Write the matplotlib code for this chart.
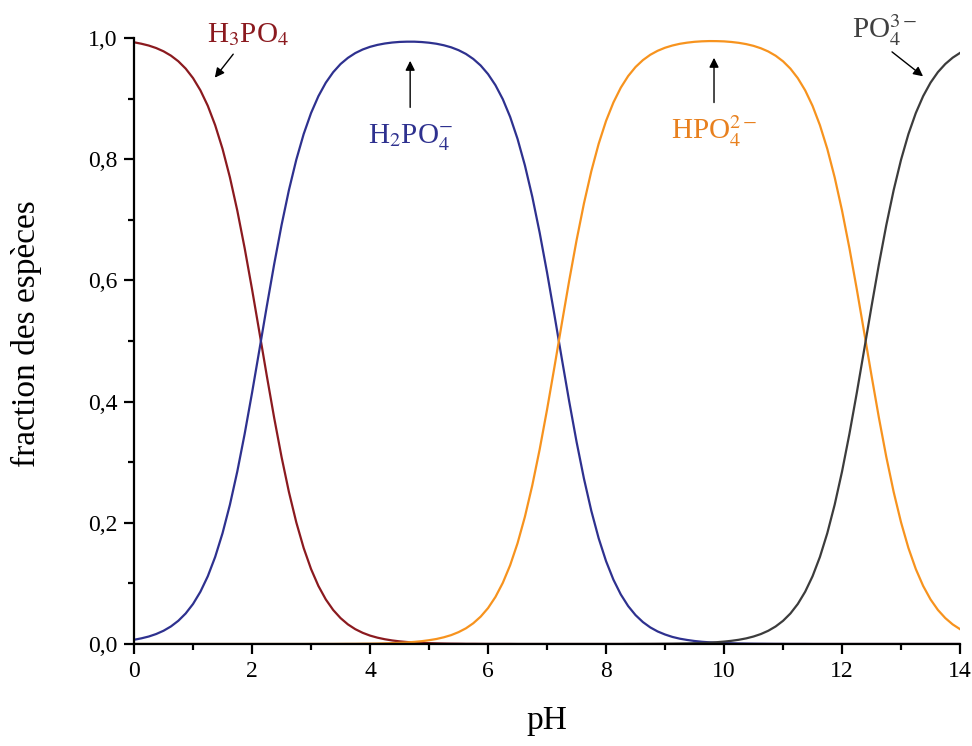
"""Diagramme de distribution des espèces de l'acide phosphorique en fonction du pH"""
import matplotlib
matplotlib.use("Agg")
import matplotlib.pyplot as plt
from matplotlib.ticker import MultipleLocator, FuncFormatter

## Valeurs (pas de 0,125 en pH, une ligne par unité de pH)
ph = [i * 0.125 for i in range(113)]

h3po4 = (
    [0.9930, 0.9906, 0.9876, 0.9835, 0.9781, 0.9710, 0.9617, 0.9496]
    + [0.9339, 0.9137, 0.8882, 0.8562, 0.8171, 0.7701, 0.7153, 0.6532]
    + [0.5855, 0.5144, 0.4427, 0.3733, 0.3088, 0.2509, 0.2008, 0.1585]
    + [0.1238, 0.0958, 0.0736, 0.0562, 0.0428, 0.0324, 0.0245, 0.0185]
    + [0.0139, 0.0105, 0.0079, 0.0059, 0.0044, 0.0033, 0.0025, 0.0019]
    + [0.0014, 0.0011, 0.0008, 0.0006, 0.0005, 0.0003, 0.0003, 0.0002]
    + [0.0001, 0.0001, 0.0001, 0.0001, 0.0, 0.0, 0.0, 0.0]
    + [0.0] * 57
)
h2po4 = (
    [0.0070, 0.0094, 0.0124, 0.0165, 0.0219, 0.0290, 0.0383, 0.0504]
    + [0.0661, 0.0863, 0.1118, 0.1437, 0.1829, 0.2299, 0.2847, 0.3468]
    + [0.4145, 0.4856, 0.5573, 0.6267, 0.6912, 0.7491, 0.7992, 0.8415]
    + [0.8762, 0.9041, 0.9263, 0.9436, 0.9571, 0.9673, 0.9752, 0.9811]
    + [0.9855, 0.9887, 0.9910, 0.9926, 0.9936, 0.9940, 0.9940, 0.9934]
    + [0.9923, 0.9906, 0.9881, 0.9847, 0.9800, 0.9738, 0.9655, 0.9547]
    + [0.9405, 0.9223, 0.8991, 0.8698, 0.8336, 0.7898, 0.7381, 0.6788]
    + [0.6131, 0.5431, 0.4712, 0.4006, 0.3339, 0.2732, 0.2199, 0.1745]
    + [0.1368, 0.1062, 0.0818, 0.0626, 0.0477, 0.0362, 0.0274, 0.0207]
    + [0.0157, 0.0117, 0.0088, 0.0067, 0.0050, 0.0037, 0.0028, 0.0021]
    + [0.0016, 0.0012, 0.0009, 0.0007, 0.0005, 0.0004, 0.0003, 0.0002]
    + [0.0002, 0.0001, 0.0001, 0.0001, 0.0, 0.0, 0.0, 0.0]
    + [0.0] * 17
)
hpo4 = (
    [0.0] * 24
    + [0.0001, 0.0001, 0.0001, 0.0001, 0.0002, 0.0003, 0.0003, 0.0005]
    + [0.0006, 0.0008, 0.0011, 0.0015, 0.0020, 0.0026, 0.0035, 0.0047]
    + [0.0063, 0.0083, 0.0111, 0.0147, 0.0196, 0.0259, 0.0343, 0.0452]
    + [0.0593, 0.0776, 0.1009, 0.1301, 0.1663, 0.2101, 0.2619, 0.3212]
    + [0.3868, 0.4570, 0.5288, 0.5994, 0.6661, 0.7268, 0.7801, 0.8255]
    + [0.8632, 0.8937, 0.9181, 0.9373, 0.9522, 0.9636, 0.9724, 0.9790]
    + [0.9840, 0.9877, 0.9905, 0.9924, 0.9938, 0.9946, 0.9950, 0.9949]
    + [0.9945, 0.9935, 0.9921, 0.9900, 0.9871, 0.9831, 0.9778, 0.9708]
    + [0.9616, 0.9495, 0.9338, 0.9137, 0.8881, 0.8562, 0.8171, 0.7701]
    + [0.7152, 0.6532, 0.5855, 0.5144, 0.4427, 0.3733, 0.3088, 0.2509]
    + [0.2008, 0.1585, 0.1238, 0.0958, 0.0736, 0.0562, 0.0428, 0.0324]
    + [0.0245]
)
po4 = (
    [0.0] * 64
    + [0.0, 0.0, 0.0, 0.0001, 0.0001, 0.0002, 0.0002, 0.0003]
    + [0.0004, 0.0005, 0.0007, 0.0009, 0.0013, 0.0017, 0.0022, 0.0030]
    + [0.0040, 0.0053, 0.0070, 0.0093, 0.0124, 0.0165, 0.0219, 0.0290]
    + [0.0383, 0.0504, 0.0661, 0.0863, 0.1118, 0.1437, 0.1829, 0.2299]
    + [0.2847, 0.3468, 0.4145, 0.4856, 0.5573, 0.6267, 0.6912, 0.7491]
    + [0.7992, 0.8415, 0.8762, 0.9042, 0.9264, 0.9438, 0.9572, 0.9676]
    + [0.9755]
)

names = [r"H$_3$PO$_4$", r"H$_2$PO$_4^{-}$", r"HPO$_4^{2-}$", r"PO$_4^{3-}$"]
line_colors = ["#8b1a1f", "#2e318f", "#f7931e", "#3c3c3c"]
label_colors = ["#8b1a1f", "#2e318f", "#e8801e", "#404040"]

plt.rcParams["font.family"] = ["Liberation Serif", "DejaVu Serif"]
plt.rcParams["mathtext.fontset"] = "stix"

fig = plt.figure(figsize=(9.72, 7.46), dpi=100)
ax = fig.add_axes([0.1379, 0.1367, 0.8498, 0.8123])

for values, color in zip([h3po4, h2po4, hpo4, po4], line_colors):
    ax.plot(ph, values, color=color, linewidth=1.6)

ax.set_xlim(0, 14)
ax.set_ylim(0, 1.0)
ax.spines["top"].set_visible(False)
ax.spines["right"].set_visible(False)
for side in ["left", "bottom"]:
    ax.spines[side].set_linewidth(1.6)
    ax.spines[side].set_zorder(5)

ax.xaxis.set_major_locator(MultipleLocator(2))
ax.xaxis.set_minor_locator(MultipleLocator(1))
ax.yaxis.set_major_locator(MultipleLocator(0.2))
ax.yaxis.set_minor_locator(MultipleLocator(0.1))
ax.yaxis.set_major_formatter(FuncFormatter(lambda v, _: f"{v:.1f}".replace(".", ",")))
ax.tick_params(which="major", direction="out", length=7, width=1.6, labelsize=17, pad=5)
ax.tick_params(which="minor", direction="out", length=4.5, width=1.6)

ax.set_xlabel("pH", fontsize=24, labelpad=17)
ax.set_ylabel("fraction des espèces", fontsize=24)
ax.yaxis.set_label_coords(-0.112, 0.513)

## Étiquettes et flèches
arrow = dict(arrowstyle="-|>", color="black", lw=1.0, mutation_scale=14)
ax.annotate("", xy=(1.34, 0.931), xytext=(1.71, 0.977), arrowprops=arrow, annotation_clip=False)
ax.text(1.93, 1.005, names[0], color=label_colors[0], fontsize=21,
        ha="center", va="center", clip_on=False)

ax.annotate("", xy=(4.68, 0.967), xytext=(4.68, 0.881), arrowprops=arrow)
ax.text(4.68, 0.835, names[1], color=label_colors[1], fontsize=21,
        ha="center", va="center")

ax.annotate("", xy=(9.83, 0.972), xytext=(9.83, 0.889), arrowprops=arrow)
ax.text(9.83, 0.846, names[2], color=label_colors[2], fontsize=21,
        ha="center", va="center")

ax.annotate("", xy=(13.41, 0.934), xytext=(12.81, 0.980), arrowprops=arrow, annotation_clip=False)
ax.text(12.73, 1.013, names[3], color=label_colors[3], fontsize=21,
        ha="center", va="center", clip_on=False)

fig.savefig("out.png", dpi=100)
